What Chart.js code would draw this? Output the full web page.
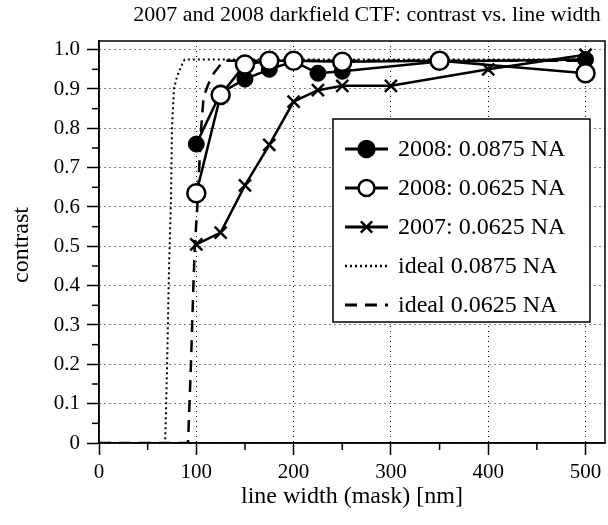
<!DOCTYPE html>
<html>
<head>
<meta charset="utf-8">
<script src="https://cdn.jsdelivr.net/npm/chart.js@4"></script>
<style>
  html, body { margin: 0; padding: 0; background: #fff; overflow: hidden; }
  canvas { display: block; }
</style>
</head>
<body>
<canvas id="ctfChart" width="608" height="525"></canvas>
<script>
const na0875X = [100, 125, 150, 175, 200, 225, 250, 350, 500];
const na0875Y = [0.76, 0.89, 0.925, 0.95, 0.97, 0.94, 0.945, 0.97, 0.975];
const na0625X = [100, 125, 150, 175, 200, 250, 350, 500];
const na0625Y = [0.635, 0.885, 0.962, 0.972, 0.972, 0.969, 0.972, 0.94];
const old0625X = [100, 125, 150, 175, 200, 225, 250, 300, 400, 500];
const old0625Y = [0.505, 0.535, 0.655, 0.758, 0.868, 0.897, 0.908, 0.908, 0.95, 0.987];

// ideal curves
const ideal0875X = [0, 68, 70, 72, 74, 75, 77, 80, 84, 88, 500];
const ideal0875Y = [0, 0, 0.2, 0.45, 0.62, 0.8, 0.9, 0.93, 0.955, 0.975, 0.975];
const ideal0625X = [0, 91.5, 94.5, 97, 98.5, 101, 103, 105, 107.5, 112, 118, 128, 500];
const ideal0625Y = [0, 0, 0.2, 0.4, 0.5, 0.6, 0.7, 0.8, 0.88, 0.91, 0.94, 0.972, 0.972];

const seriesLabels = ['2008: 0.0875 NA', '2008: 0.0625 NA', '2007: 0.0625 NA', 'ideal 0.0875 NA', 'ideal 0.0625 NA'];

const xTicks = [0, 100, 200, 300, 400, 500];
const yTicks = [0, 0.1, 0.2, 0.3, 0.4, 0.5, 0.6, 0.7, 0.8, 0.9, 1.0];
const xMinor = [50, 150, 250, 350, 450];
const yMinor = [0.05, 0.15, 0.25, 0.35, 0.45, 0.55, 0.65, 0.75, 0.85, 0.95];

const FONT = "'Liberation Serif', 'DejaVu Serif', serif";

function pts(xs, ys) {
    return xs.map((x, i) => ({ x: x, y: ys[i] }));
}

function noPadding(s) {
    s.paddingLeft = 0; s.paddingRight = 0; s.paddingTop = 0; s.paddingBottom = 0;
}

// frame, minor ticks, legend and texts
const decorPlugin = {
    id: 'decor',
    afterDatasetsDraw(chart) {
        const ctx = chart.ctx;
        const a = chart.chartArea;
        const xs = chart.scales.x, ys = chart.scales.y;
        ctx.save();
        ctx.strokeStyle = '#000';
        ctx.lineWidth = 1.5;
        ctx.setLineDash([]);
        ctx.strokeRect(a.left, a.top, a.right - a.left, a.bottom - a.top);

        xMinor.forEach(v => {
            const px = xs.getPixelForValue(v);
            ctx.beginPath(); ctx.moveTo(px, a.bottom); ctx.lineTo(px, a.bottom + 7); ctx.stroke();
        });
        yMinor.forEach(v => {
            const py = ys.getPixelForValue(v);
            ctx.beginPath(); ctx.moveTo(a.left, py); ctx.lineTo(a.left - 7, py); ctx.stroke();
        });

        // legend box
        const bx = 333, by = 119, bw = 257, bh = 203;
        ctx.fillStyle = '#fff';
        ctx.fillRect(bx, by, bw, bh);
        ctx.lineWidth = 1.5;
        ctx.strokeRect(bx, by, bw, bh);

        [0, 1, 2, 3, 4].forEach((idx, r) => {
            const ds = chart.data.datasets.find(d => d.label === seriesLabels[idx]);
            const y = by + 30 + r * 39;
            ctx.save();
            ctx.strokeStyle = '#000';
            ctx.lineWidth = ds.pointRadius > 0 ? 3 : ds.borderWidth + 0.5;
            ctx.setLineDash(ds.borderDash || []);
            ctx.beginPath(); ctx.moveTo(345, y); ctx.lineTo(388, y); ctx.stroke();
            ctx.setLineDash([]);
            if (ds.pointStyle === 'circle') {
                ctx.fillStyle = ds.pointBackgroundColor;
                ctx.lineWidth = 2.5;
                ctx.beginPath(); ctx.arc(366.5, y, 8, 0, Math.PI * 2);
                ctx.fill(); ctx.stroke();
            } else if (ds.pointRadius > 0) {
                ctx.lineWidth = 2.5;
                Chart.helpers.drawPoint(ctx, { pointStyle: ds.pointStyle, radius: 8, borderWidth: 2.5 }, 366.5, y);
            }
            ctx.restore();
            ctx.fillStyle = '#000';
            ctx.font = '24px ' + FONT;
            ctx.textAlign = 'left';
            ctx.textBaseline = 'middle';
            ctx.fillText(seriesLabels[idx], 398, y + 1);
        });
        ctx.restore();
    },
    afterDraw(chart) {
        const ctx = chart.ctx;
        ctx.save();
        ctx.fillStyle = '#000';
        ctx.textAlign = 'center';
        ctx.textBaseline = 'middle';
        ctx.font = '22px ' + FONT;
        ctx.fillText('2007 and 2008 darkfield CTF: contrast vs. line width', 367, 15);
        ctx.font = '24px ' + FONT;
        ctx.fillText('line width (mask) [nm]', 352, 497);
        ctx.translate(22, 245);
        ctx.rotate(-Math.PI / 2);
        ctx.fillText('contrast', 0, 0);
        ctx.restore();
    }
};

const ctx = document.getElementById('ctfChart').getContext('2d');

new Chart(ctx, {
    type: 'scatter',
    data: {
        datasets: [
            {
                label: seriesLabels[2],
                data: pts(old0625X, old0625Y),
                showLine: true,
                borderColor: '#000',
                borderWidth: 2.5,
                pointStyle: 'crossRot',
                pointRadius: 8.5,
                pointBorderWidth: 2.5,
                pointBorderColor: '#000',
                pointBackgroundColor: '#000',
                order: 0
            },
            {
                label: seriesLabels[1],
                data: pts(na0625X, na0625Y),
                showLine: true,
                borderColor: '#000',
                borderWidth: 2.5,
                pointStyle: 'circle',
                pointRadius: 9,
                pointBorderWidth: 2.5,
                pointBorderColor: '#000',
                pointBackgroundColor: '#fff',
                order: 1
            },
            {
                label: seriesLabels[0],
                data: pts(na0875X, na0875Y),
                showLine: true,
                borderColor: '#000',
                borderWidth: 2.5,
                pointStyle: 'circle',
                pointRadius: 8,
                pointBorderWidth: 1,
                pointBorderColor: '#000',
                pointBackgroundColor: '#000',
                order: 2
            },
            {
                label: seriesLabels[3],
                data: pts(ideal0875X, ideal0875Y),
                showLine: true,
                borderColor: '#000',
                borderWidth: 2,
                borderDash: [2, 3],
                pointRadius: 0,
                order: 3
            },
            {
                label: seriesLabels[4],
                data: pts(ideal0625X, ideal0625Y),
                showLine: true,
                borderColor: '#000',
                borderWidth: 2.5,
                borderDash: [12, 8],
                pointRadius: 0,
                order: 4
            }
        ]
    },
    options: {
        responsive: false,
        animation: false,
        layout: { autoPadding: false, padding: { top: 41, right: 3, left: 0, bottom: 0 } },
        plugins: {
            legend: { display: false },
            tooltip: { enabled: false }
        },
        scales: {
            x: {
                type: 'linear',
                min: 0,
                max: 520,
                afterBuildTicks: s => { s.ticks = xTicks.map(v => ({ value: v })); },
                afterFit: s => { s.height = 82; noPadding(s); },
                ticks: {
                    color: '#000',
                    font: { family: FONT, size: 21 },
                    padding: 5,
                    maxRotation: 0
                },
                grid: {
                    color: '#000',
                    lineWidth: 1,
                    tickLength: 12,
                    tickColor: '#000',
                    tickWidth: 1.5,
                    tickBorderDash: []
                },
                border: { display: true, color: '#000', width: 1.5, dash: [1, 4] }
            },
            y: {
                type: 'linear',
                min: 0,
                max: 1.022,
                afterBuildTicks: s => { s.ticks = yTicks.map(v => ({ value: v })); },
                afterFit: s => { s.width = 99; noPadding(s); },
                ticks: {
                    color: '#000',
                    font: { family: FONT, size: 21 },
                    padding: 7,
                    callback: v => (v === 0 ? '0' : v.toFixed(1))
                },
                grid: {
                    color: '#000',
                    lineWidth: 1,
                    tickLength: 12,
                    tickColor: '#000',
                    tickWidth: 1.5,
                    tickBorderDash: []
                },
                border: { display: true, color: '#000', width: 1.5, dash: [1, 4] }
            }
        }
    },
    plugins: [decorPlugin]
});
</script>
</body>
</html>
